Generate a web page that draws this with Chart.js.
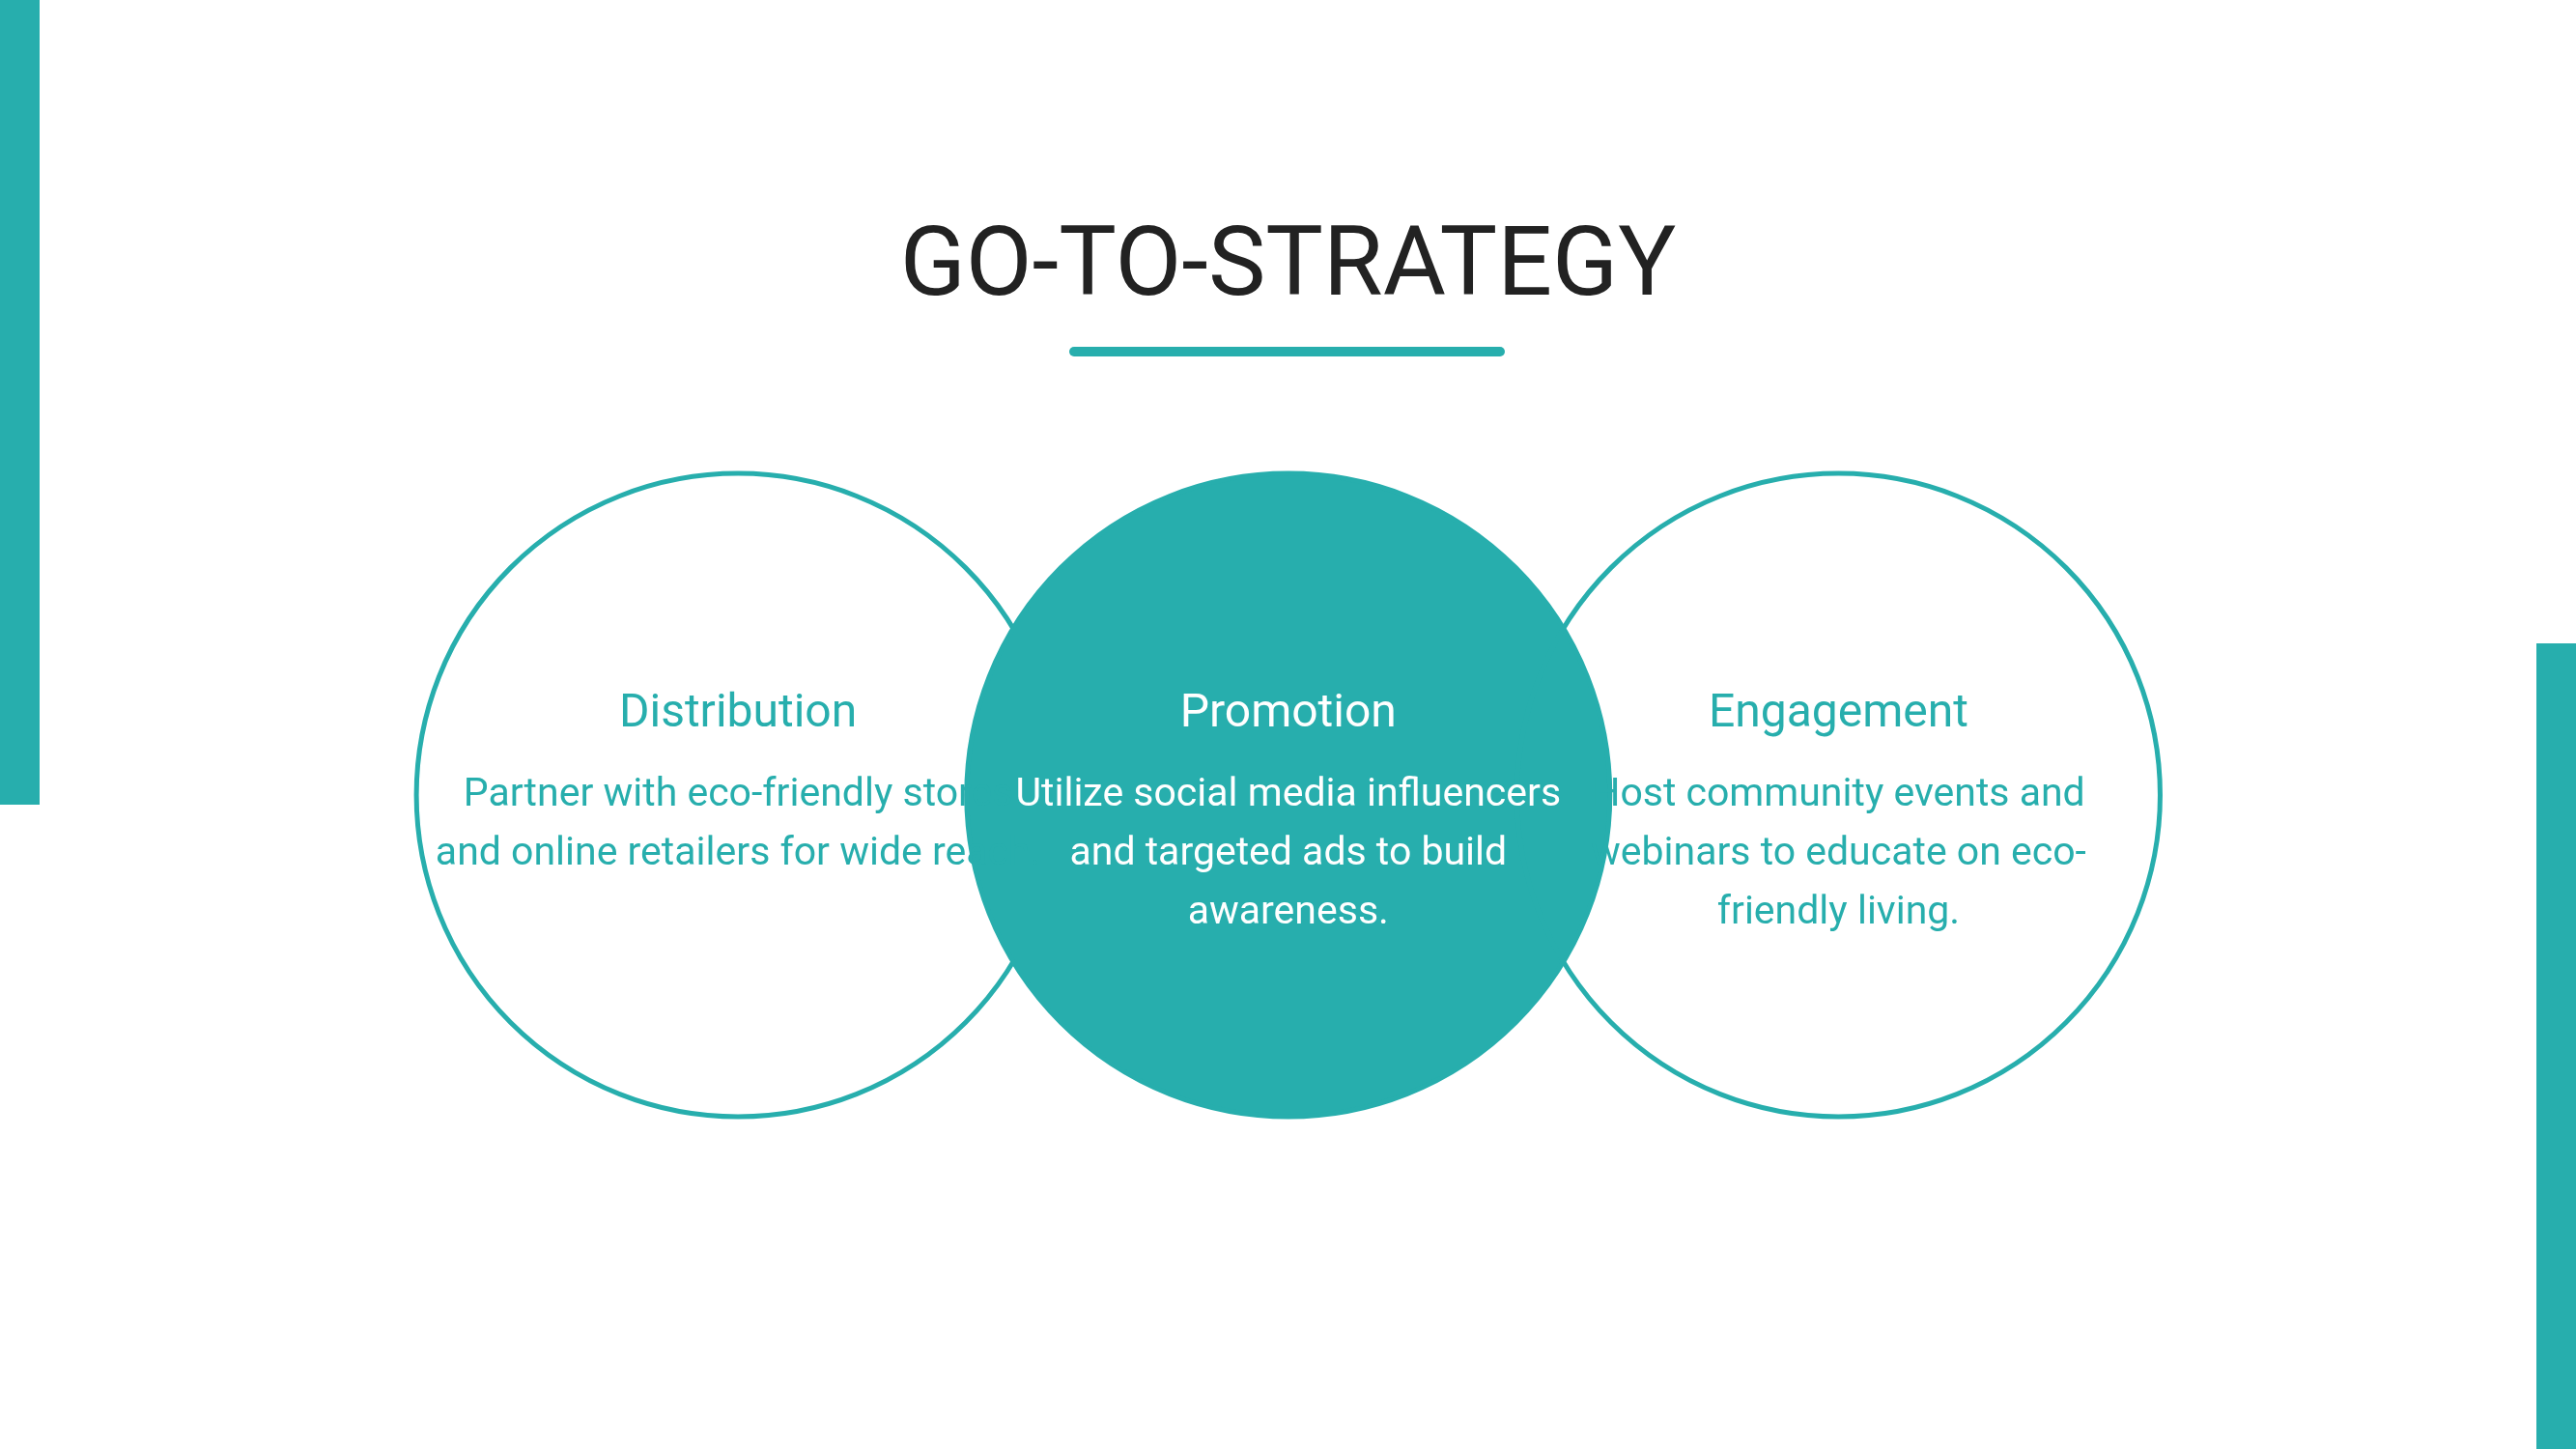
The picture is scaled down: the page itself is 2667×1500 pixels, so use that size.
<!DOCTYPE html>
<html lang="en">
<head>
  <meta charset="UTF-8">
  <title>Go-To-Strategy</title>
  <style>
    body { margin: 0; width: 2667px; height: 1500px; position: relative; overflow: hidden; background: #fff; font-family: Roboto, "Open Sans", sans-serif; }
    #chart { position: absolute; left: 0; top: 0; width: 2667px; height: 1500px; }
    .bar { position: absolute; background: #27AEAD; }
    h1 { position: absolute; left: 0; width: 2667px; top: 212px; margin: 0; text-align: center; font-weight: 400; font-size: 100px; color: #222; }
    .rule { position: absolute; left: 1107px; top: 359px; width: 451px; height: 10px; border-radius: 5px; background: #27AEAD; }
    .item { position: absolute; width: 630px; text-align: center; }
    .item h2 { margin: 0; font-weight: 400; font-size: 48px; line-height: 60px; }
    .item p { margin: 24px 0 0; font-size: 41px; line-height: 61px; }
  </style>
</head>
<body>
  <canvas id="chart" width="2667" height="1500"></canvas>
  <div class="bar" style="left:0;top:0;width:41px;height:833px"></div>
  <div class="bar" style="left:2626px;top:666px;width:41px;height:834px"></div>
  <h1>GO-TO-STRATEGY</h1>
  <div class="rule"></div>
  <div id="labels"></div>
  <script src="https://cdn.jsdelivr.net/npm/chart.js@4.4.9/dist/chart.umd.min.js"></script>
  <script>
    const categories = ['Distribution', 'Promotion', 'Engagement']
    const descriptions = [
      'Partner with eco-friendly stores and online retailers for wide reach.',
      'Utilize social media influencers and targeted ads to build awareness.',
      'Host community events and webinars to educate on eco-friendly living.'
    ]
    const positions = [1, 2, 3]
    const highlighted = [false, true, false]

    const teal = '#27AEAD'

    const chart = new Chart(document.getElementById('chart'), {
      type: 'scatter',
      data: {
        datasets: [{
          data: positions.map(x => ({ x: x, y: 0 })),
          pointRadius: 333,
          pointHoverRadius: 333,
          pointBorderWidth: 5,
          pointBorderColor: teal,
          pointBackgroundColor: highlighted.map(h => h ? teal : 'rgba(255,255,255,0)')
        }]
      },
      options: {
        responsive: false,
        devicePixelRatio: 1,
        animation: false,
        events: [],
        layout: { padding: 0 },
        plugins: { legend: { display: false }, tooltip: { enabled: false } },
        scales: {
          x: { type: 'linear', display: false, min: 0.252, max: 3.747 },
          y: { type: 'linear', display: false, min: -0.6987, max: 1 }
        }
      }
    })

    const labels = document.getElementById('labels')
    const meta = chart.getDatasetMeta(0)
    categories.forEach((name, i) => {
      const pt = meta.data[i]
      const d = document.createElement('div')
      d.className = 'item'
      d.style.left = (pt.x - 315) + 'px'
      d.style.top = (pt.y - 117) + 'px'
      d.style.color = highlighted[i] ? '#fff' : teal
      d.innerHTML = '<h2>' + name + '</h2><p>' + descriptions[i] + '</p>'
      labels.appendChild(d)
    })
  </script>
</body>
</html>
